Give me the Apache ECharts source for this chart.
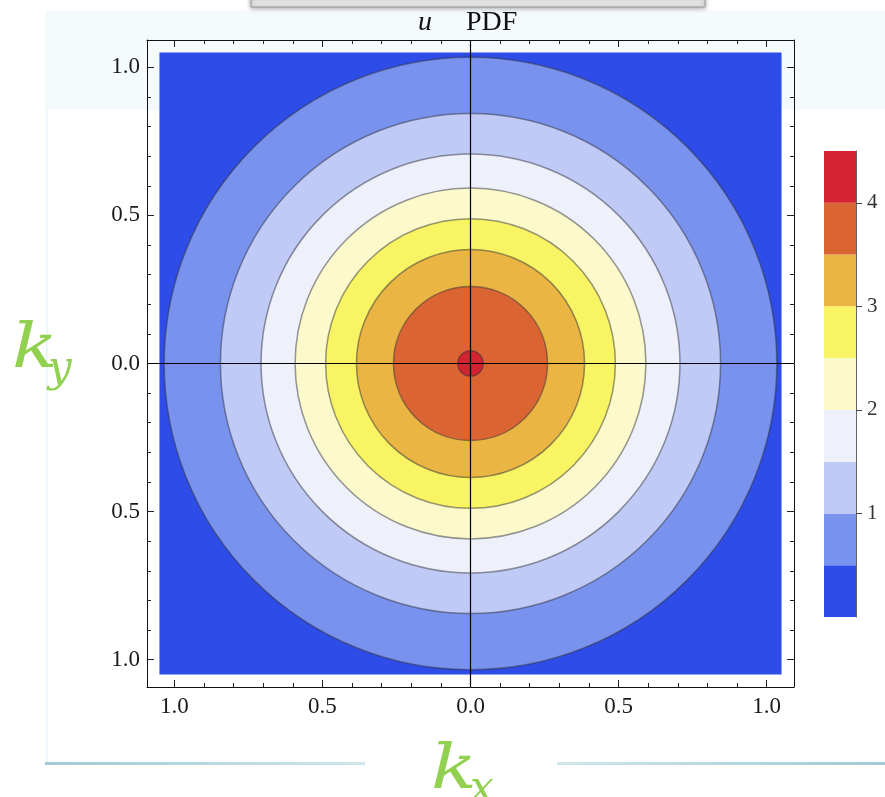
<!DOCTYPE html>
<html>
<head>
<meta charset="utf-8">
<title>u PDF</title>
<script src="https://cdn.jsdelivr.net/npm/echarts@6/dist/echarts.min.js"></script>
<style>
  html, body { margin: 0; padding: 0; background: #ffffff; }
  #chart { width: 885px; height: 797px; }
</style>
</head>
<body>
<div id="chart"></div>
<script>
// Contour levels of the density and the radius (in k units) where each level is crossed
const contourLevels = [0.5, 1.0, 1.5, 2.0, 2.5, 3.0, 3.5, 4.0];
const contourRadii  = [1.034, 0.844, 0.707, 0.592, 0.489, 0.385, 0.260, 0.043];
const contourCenter = [0, 0];

// Plotted domain of the density (square, |kx|,|ky| <= 1.05)
const domainHalfWidth = 1.05;

// Band edges of the colour scale and one colour per band
const bandEdges  = [0, 0.5, 1.0, 1.5, 2.0, 2.5, 3.0, 3.5, 4.0, 4.5];
const bandColors = ['#2e4ce8', '#7892ee', '#c0caf6', '#eef1f9', '#fcfacb',
                    '#f9f463', '#eab542', '#da6432', '#d42230'];

// Frame tick positions
const majorTicks = [-1.0, -0.5, 0.0, 0.5, 1.0];
const minorTicks = [-0.9, -0.8, -0.7, -0.6, -0.4, -0.3, -0.2, -0.1,
                    0.1, 0.2, 0.3, 0.4, 0.6, 0.7, 0.8, 0.9];
const colorbarTicks = [1, 2, 3, 4];

const axisRange = 1.092;
const serif = '"Liberation Serif", "DejaVu Serif", serif';
const mathFont = '"DejaVu Serif", serif';

function bandColorForLevel(level) {
  return bandColors[bandEdges.indexOf(level)];
}

function frameAxis(position, isMajor, extra) {
  return Object.assign({
    type: 'value',
    position: position,
    min: -axisRange,
    max: axisRange,
    axisLine: { show: isMajor, onZero: false, lineStyle: { color: '#111', width: 1 } },
    axisTick: {
      show: true, inside: true, length: isMajor ? 7 : 4,
      customValues: isMajor ? majorTicks : minorTicks,
      lineStyle: { color: '#222', width: 1 }
    },
    axisLabel: { show: false },
    splitLine: { show: false }
  }, extra || {});
}

const labelStyle = {
  show: true,
  customValues: majorTicks,
  formatter: v => Math.abs(v).toFixed(1),
  fontFamily: serif,
  fontSize: 23,
  color: '#1a1a1a'
};

const chart = echarts.init(document.getElementById('chart'), null, { renderer: 'canvas' });

const discData = contourRadii.map((r, i) => [contourCenter[0], contourCenter[1], r, contourLevels[i]]);
const colorbarData = bandColors.map((c, i) => [0, bandEdges[i], bandEdges[i + 1], i]);

// Axis name drawn as an italic letter with a lowered subscript
function axisName(x, y, main, sub, subDx, subDy) {
  return {
    type: 'group', x: x, y: y,
    children: [
      { type: 'text', x: 0, y: 0, scaleX: 1.22,
        style: { text: main, fontFamily: mathFont, fontStyle: 'italic', fontSize: 62, fill: '#92d050' } },
      { type: 'text', x: subDx, y: subDy,
        style: { text: sub, fontFamily: mathFont, fontStyle: 'italic', fontSize: 42, fill: '#92d050' } }
    ]
  };
}

chart.setOption({
  animation: false,
  backgroundColor: '#ffffff',
  grid: [
    { left: 147, top: 40, width: 647, height: 647 },
    { left: 824, top: 151, width: 32, height: 466 }
  ],
  xAxis: [
    frameAxis('bottom', true, { axisLabel: Object.assign({ margin: 8 }, labelStyle) }),
    frameAxis('bottom', false),
    frameAxis('top', true),
    frameAxis('top', false),
    { type: 'value', gridIndex: 1, min: 0, max: 1, show: false }
  ],
  yAxis: [
    frameAxis('left', true, { axisLabel: Object.assign({ margin: 7 }, labelStyle) }),
    frameAxis('left', false),
    frameAxis('right', true),
    frameAxis('right', false),
    {
      type: 'value', gridIndex: 1, position: 'right', min: 0, max: 4.5,
      axisLine: { show: true, onZero: false, lineStyle: { color: '#666', width: 1 } },
      axisTick: { show: true, inside: false, length: 6, customValues: colorbarTicks,
                  lineStyle: { color: '#444', width: 1 } },
      axisLabel: { show: true, customValues: colorbarTicks, margin: 11,
                   fontFamily: serif, fontSize: 21, color: '#333' },
      splitLine: { show: false }
    }
  ],
  graphic: [
    // slide backdrop behind the figure
    { type: 'rect', z: -20, shape: { x: 45, y: 10, width: 840, height: 100 },
      style: { fill: '#f5fbfd' } },
    { type: 'rect', z: -20, shape: { x: 46, y: 110, width: 1.5, height: 654 },
      style: { fill: '#e6f2f6' } },
    { type: 'rect', z: -20, shape: { x: 45, y: 762, width: 320, height: 3 },
      style: { fill: new echarts.graphic.LinearGradient(0, 0, 1, 0, [
        { offset: 0, color: '#9fcad6' }, { offset: 1, color: '#cfe6ec' }]) } },
    { type: 'rect', z: -20, shape: { x: 557, y: 762, width: 328, height: 3 },
      style: { fill: new echarts.graphic.LinearGradient(0, 0, 1, 0, [
        { offset: 0, color: '#cfe6ec' }, { offset: 1, color: '#9fcad6' }]) } },
    { type: 'rect', z: -20, shape: { x: 251, y: -3, width: 454, height: 10 },
      style: { fill: '#e4e4e4', stroke: '#9a9a9a', lineWidth: 1,
               shadowBlur: 4, shadowColor: 'rgba(0,0,0,0.35)', shadowOffsetY: 1 } },
    // plot title
    { type: 'text', x: 418, y: 9,
      style: { text: 'u', fill: '#111', fontFamily: serif, fontStyle: 'italic', fontSize: 28 } },
    { type: 'text', x: 466, y: 9,
      style: { text: 'PDF', fill: '#111', fontFamily: serif, fontSize: 28 } },
    // axis names
    axisName(12, 320, 'k', 'y', 36, 29),
    axisName(431, 741, 'k', 'x', 39, 28)
  ],
  series: [
    {
      // lowest band covering the whole domain
      type: 'custom', name: 'domain', xAxisIndex: 0, yAxisIndex: 0, clip: true,
      data: [[-domainHalfWidth, domainHalfWidth, domainHalfWidth, -domainHalfWidth]],
      renderItem: function (params, api) {
        const p0 = api.coord([api.value(0), api.value(1)]);
        const p1 = api.coord([api.value(2), api.value(3)]);
        return { type: 'rect',
                 shape: { x: p0[0], y: p0[1], width: p1[0] - p0[0], height: p1[1] - p0[1] },
                 style: { fill: bandColors[0] } };
      }
    },
    {
      // filled contour regions, outermost first
      type: 'custom', name: 'contours', xAxisIndex: 0, yAxisIndex: 0, clip: true,
      encode: { x: 0, y: 1 },
      data: discData,
      renderItem: function (params, api) {
        const c = api.coord([api.value(0), api.value(1)]);
        const rad = api.value(2);
        const r = (api.size([rad, 0])[0] + api.size([0, rad])[1]) / 2;
        return { type: 'circle',
                 shape: { cx: c[0], cy: c[1], r: r },
                 style: { fill: bandColorForLevel(api.value(3)),
                          stroke: 'rgba(50,50,60,0.5)', lineWidth: 1.5 } };
      }
    },
    {
      // coordinate cross through the origin
      type: 'line', name: 'axes', xAxisIndex: 0, yAxisIndex: 0, data: [],
      markLine: {
        silent: true, symbol: 'none', label: { show: false },
        lineStyle: { color: '#000', width: 1.2, type: 'solid' },
        data: [{ xAxis: 0 }, { yAxis: 0 }]
      }
    },
    {
      // colour scale
      type: 'custom', name: 'colorbar', xAxisIndex: 4, yAxisIndex: 4,
      data: colorbarData,
      renderItem: function (params, api) {
        const p0 = api.coord([0, api.value(2)]);
        const p1 = api.coord([1, api.value(1)]);
        return { type: 'rect',
                 shape: { x: p0[0], y: p0[1], width: p1[0] - p0[0], height: p1[1] - p0[1] },
                 style: { fill: bandColors[api.value(3)] } };
      }
    }
  ]
});
</script>
</body>
</html>
